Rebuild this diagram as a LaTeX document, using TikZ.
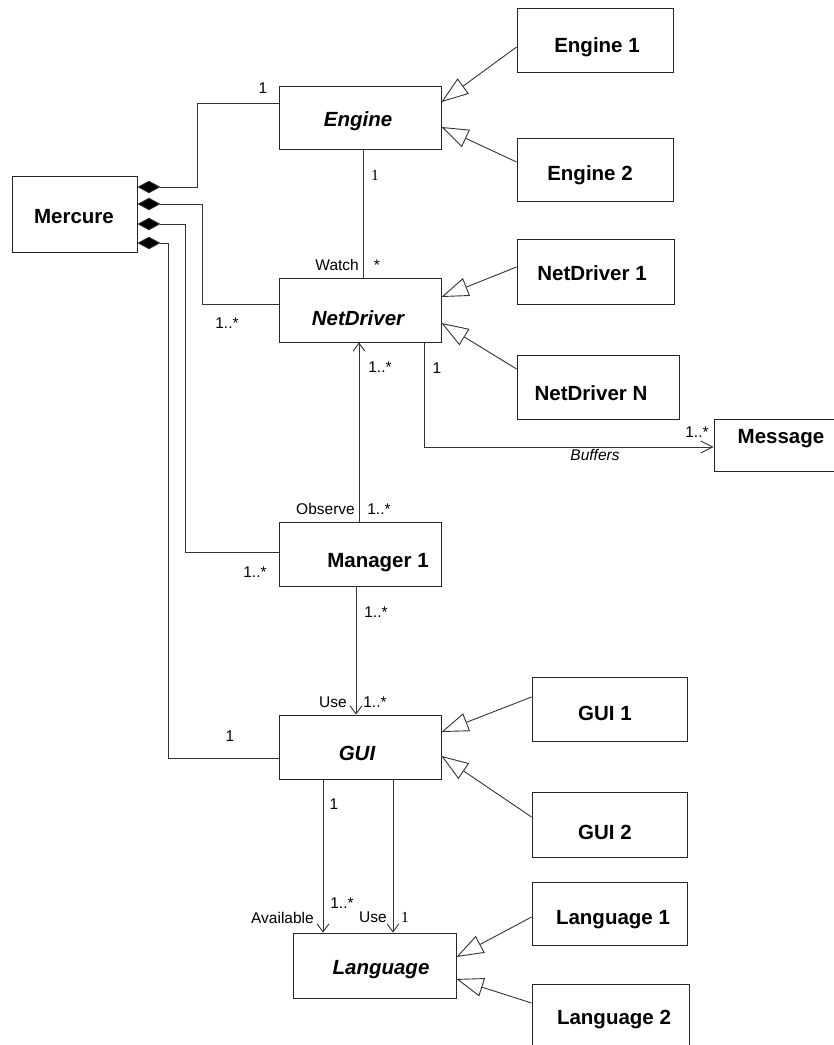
\documentclass[tikz,border=0pt]{standalone}
\usepackage{fontspec}
\setmainfont{Liberation Sans}
\newfontfamily\tmsfont{Liberation Serif}
\usetikzlibrary{arrows.meta}
\begin{document}
\begin{tikzpicture}[x=1pt,y=-1pt,
  cls/.style={draw=black!85, line width=0.9pt, inner sep=0pt, fill=white},
  cname/.style={font=\fontsize{20.5}{24}\selectfont\bfseries, anchor=base, inner sep=0pt},
  aname/.style={font=\fontsize{20.5}{24}\selectfont\bfseries\itshape, anchor=base, inner sep=0pt},
  lbl/.style={font=\fontsize{15.5}{18}\selectfont, anchor=base, inner sep=0pt},
  rlbl/.style={lbl, anchor=base east},
  slbl/.style={font=\fontsize{15.5}{18}\selectfont\tmsfont, anchor=base, inner sep=0pt},
  conn/.style={draw=black!80, line width=0.9pt},
  comp/.style={conn, {Diamond[length=23pt,width=12.5pt,fill=black]}-},
  gen/.style={conn, -{Triangle[open,length=27pt,width=19pt,fill=white]}},
  nav/.style={conn, -{Straight Barb[length=8pt,width=12pt]}}
]
\useasboundingbox (0,0) rectangle (834,1045);

% classes
\node[cls, minimum width=125pt, minimum height=76pt] (mercure) at (74.5,214) {};
\node[cls, minimum width=162pt, minimum height=63pt] (engine) at (360,117.5) {};
\node[cls, minimum width=156pt, minimum height=64pt] (engine1) at (595,40) {};
\node[cls, minimum width=156pt, minimum height=63pt] (engine2) at (595,169.5) {};
\node[cls, minimum width=162pt, minimum height=64pt] (netdriver) at (360,310) {};
\node[cls, minimum width=157pt, minimum height=65pt] (nd1) at (595.5,271.5) {};
\node[cls, minimum width=162pt, minimum height=64pt] (ndN) at (598,387) {};
\node[cls, minimum width=160pt, minimum height=52pt] (message) at (794,445) {};
\node[cls, minimum width=162pt, minimum height=64pt] (manager) at (360,554) {};
\node[cls, minimum width=162pt, minimum height=64pt] (gui) at (360,747) {};
\node[cls, minimum width=155pt, minimum height=64pt] (gui1) at (609.5,709) {};
\node[cls, minimum width=155pt, minimum height=65pt] (gui2) at (609.5,824.5) {};
\node[cls, minimum width=163pt, minimum height=65pt] (language) at (374.5,965.5) {};
\node[cls, minimum width=155pt, minimum height=63pt] (lang1) at (609.5,913.5) {};
\node[cls, minimum width=157pt, minimum height=70pt] (lang2) at (610.5,1019) {};

% class names
\node[cname] (tmercure) at (74,223.3) {Mercure};
\node[aname] (tengine) at (358,126.3) {Engine};
\node[cname] (tengine1) at (597,52.3) {Engine 1};
\node[cname] (tengine2) at (590,180.3) {Engine 2};
\node[aname] (tnetdriver) at (358,325.3) {NetDriver};
\node[cname] (tnd1) at (592,280.3) {NetDriver 1};
\node[cname] (tndN) at (591,400.3) {NetDriver N};
\node[cname] (tmessage) at (781,443.3) {Message};
\node[cname] (tmanager) at (378,567.3) {Manager 1};
\node[aname] (tgui) at (357,760.3) {GUI};
\node[cname] (tgui1) at (605,720.3) {GUI 1};
\node[cname] (tgui2) at (605,839.3) {GUI 2};
\node[aname] (tlanguage) at (381,974.3) {Language};
\node[cname] (tlang1) at (613,924.3) {Language 1};
\node[cname] (tlang2) at (614,1024.3) {Language 2};

% composition from Mercure
\coordinate (m1) at (mercure.east |- 0,187);
\coordinate (m2) at (mercure.east |- 0,204);
\coordinate (m3) at (mercure.east |- 0,224);
\coordinate (m4) at (mercure.east |- 0,243);
\draw[comp] (m1) -- (197,187) -- (197,103) -- (engine.west |- 0,103);
\draw[comp] (m2) -- (202,204) -- (202,304) -- (netdriver.west |- 0,304);
\draw[comp] (m3) -- (185,224) -- (185,552) -- (manager.west |- 0,552);
\draw[comp] (m4) -- (168,243) -- (168,758) -- (gui.west |- 0,758);

% associations
\draw[conn] (engine.south -| 363,0) -- (netdriver.north -| 363,0);
\draw[nav] (manager.north -| 359,0) -- (netdriver.south -| 359,0);
\draw[nav, -{Straight Barb[length=12pt,width=12pt]}] (netdriver.south -| 424,0) |- (message.west |- 0,447);
\draw[nav] (manager.south -| 356,0) -- (gui.north -| 356,0);
\draw[nav] (gui.south -| 323,0) -- (language.north -| 323,0);
\draw[nav] (gui.south -| 393,0) -- (language.north -| 393,0);

% generalizations
\draw[gen] (engine1.west |- 0,47) -- (engine.east |- 0,102);
\draw[gen] (engine2.west |- 0,162) -- (engine.east |- 0,127);
\draw[gen] (nd1.west |- 0,267) -- (netdriver.east |- 0,297);
\draw[gen] (ndN.west |- 0,369) -- (netdriver.east |- 0,323);
\draw[gen] (gui1.west |- 0,697) -- (gui.east |- 0,732);
\draw[gen] (gui2.west |- 0,817) -- (gui.east |- 0,756);
\draw[gen] (lang1.west |- 0,917) -- (language.east |- 0,957);
\draw[gen] (lang2.west |- 0,1003) -- (language.east |- 0,979);

% labels
\node[lbl] (l1) at (263,93) {1};
\node[slbl] (l2) at (375,180) {1};
\node[rlbl] (l3) at (359,270) {Watch};
\node[lbl] (l4) at (377,270) {*};
\node[lbl] (l5) at (227,328) {1..*};
\node[lbl] (l6) at (380,372) {1..*};
\node[lbl] (l7) at (437,373) {1};
\node[lbl] (l8) at (697,437) {1..*};
\node[lbl, font=\fontsize{15.5}{18}\selectfont\itshape] (l9) at (595,460) {Buffers};
\node[rlbl] (l10) at (355,514) {Observe};
\node[lbl] (l11) at (379,514) {1..*};
\node[lbl] (l12) at (255,577) {1..*};
\node[lbl] (l13) at (376,617) {1..*};
\node[rlbl] (l14) at (347,707) {Use};
\node[lbl] (l15) at (375,707) {1..*};
\node[lbl] (l16) at (230,741) {1};
\node[lbl] (l17) at (334,809) {1};
\node[lbl] (l18) at (342,908) {1..*};
\node[rlbl] (l19) at (314,923) {Available};
\node[lbl] (l20) at (373,922) {Use};
\node[slbl] (l21) at (405,922) {1};
\end{tikzpicture}
\end{document}
